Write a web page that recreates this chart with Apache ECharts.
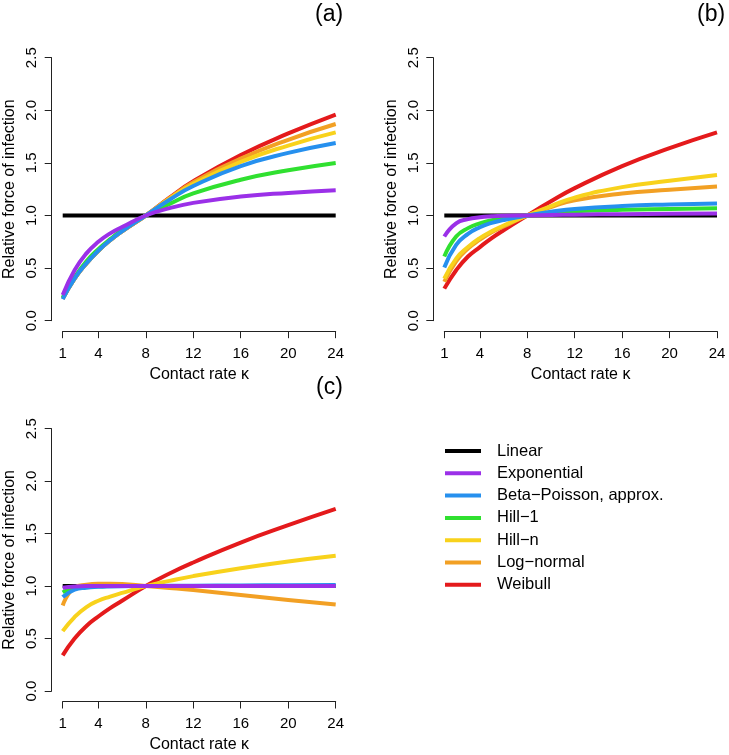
<!DOCTYPE html>
<html>
<head>
<meta charset="utf-8">
<script src="https://cdn.jsdelivr.net/npm/echarts@6/dist/echarts.min.js"></script>
<style>
  html, body { margin: 0; padding: 0; background: #fff; }
  #chart { width: 729px; height: 755px; }
</style>
</head>
<body>
<div id="chart"></div>
<script>
// contact rate values the curves are sampled at
const kappa = [1, 2, 3, 4, 5, 6, 8, 10, 12, 16, 20, 24];
const xTicks = [1, 4, 8, 12, 16, 20, 24];
const yTicks = [0, 0.5, 1, 1.5, 2, 2.5];

const linear = [1, 1, 1, 1, 1, 1, 1, 1, 1, 1, 1, 1];

// panel (a)
const expA   = [0.245, 0.48, 0.64, 0.75, 0.83, 0.89, 1, 1.07, 1.12, 1.18, 1.215, 1.24];
const betaA  = [0.205, 0.40, 0.545, 0.665, 0.765, 0.85, 1, 1.15, 1.28, 1.47, 1.595, 1.69];
const hill1A = [0.22, 0.41, 0.565, 0.68, 0.775, 0.86, 1, 1.11, 1.21, 1.34, 1.43, 1.50];
const hillnA = [0.21, 0.40, 0.545, 0.665, 0.765, 0.85, 1, 1.16, 1.30, 1.51, 1.665, 1.79];
const lognA  = [0.21, 0.40, 0.545, 0.665, 0.765, 0.85, 1, 1.165, 1.315, 1.54, 1.72, 1.87];
const weibA  = [0.21, 0.40, 0.545, 0.665, 0.765, 0.85, 1, 1.17, 1.325, 1.575, 1.78, 1.96];

// panel (b)
const expB   = [0.80, 0.925, 0.965, 0.983, 0.992, 0.997, 1, 1.004, 1.008, 1.013, 1.017, 1.02];
const betaB  = [0.505, 0.72, 0.825, 0.888, 0.93, 0.957, 1, 1.035, 1.062, 1.09, 1.105, 1.115];
const hill1B = [0.61, 0.80, 0.88, 0.926, 0.955, 0.973, 1, 1.022, 1.04, 1.055, 1.062, 1.068];
const hillnB = [0.40, 0.59, 0.70, 0.785, 0.85, 0.905, 1, 1.09, 1.17, 1.27, 1.33, 1.385];
const lognB  = [0.37, 0.565, 0.685, 0.77, 0.84, 0.895, 1, 1.08, 1.145, 1.21, 1.245, 1.275];
const weibB  = [0.305, 0.48, 0.61, 0.70, 0.785, 0.86, 1, 1.135, 1.26, 1.47, 1.64, 1.79];

// panel (c)
const expC   = [0.985, 0.997, 1, 1, 1, 1, 1, 1, 1, 1, 1, 1];
const betaC  = [0.895, 0.965, 0.985, 0.993, 0.997, 0.999, 1, 1.002, 1.004, 1.006, 1.008, 1.01];
const hill1C = [0.94, 0.985, 0.995, 0.998, 1, 1, 1, 1, 1, 1, 1, 1];
const hillnC = [0.57, 0.705, 0.80, 0.86, 0.90, 0.935, 1, 1.05, 1.095, 1.17, 1.235, 1.29];
const lognC  = [0.815, 0.985, 1.012, 1.022, 1.023, 1.02, 1, 0.982, 0.962, 0.915, 0.868, 0.825];
const weibC  = [0.34, 0.50, 0.62, 0.71, 0.79, 0.86, 1, 1.12, 1.225, 1.415, 1.58, 1.735];

const names = ["Linear", "Exponential", "Beta\u2212Poisson, approx.", "Hill\u22121", "Hill\u2212n", "Log\u2212normal", "Weibull"];
const colors = {
  "Linear": "#000000",
  "Exponential": "#9B30E8",
  "Beta\u2212Poisson, approx.": "#2690EE",
  "Hill\u22121": "#30E030",
  "Hill\u2212n": "#F8D21C",
  "Log\u2212normal": "#F2A024",
  "Weibull": "#E41A1C"
};

const panels = [
  [linear, expA, betaA, hill1A, hillnA, lognA, weibA],
  [linear, expB, betaB, hill1B, hillnB, lognB, weibB],
  [linear, expC, betaC, hill1C, hillnC, lognC, weibC]
];

// draw order: black first, then Weibull ... Exponential on top
const drawOrder = [0, 6, 5, 4, 3, 2, 1];

const FONT = "Liberation Sans, Arial, Helvetica, sans-serif";

const grids = [
  { left: 62.7, top: 57.7, width: 273, height: 263 },
  { left: 444.3, top: 57.7, width: 272.7, height: 263 },
  { left: 62.7, top: 428.7, width: 273, height: 262.3 }
];

const makeX = (i) => ({
  type: "value",
  gridIndex: i,
  min: 1,
  max: 24,
  offset: 10.5,
  axisLine: { show: true, onZero: false, lineStyle: { color: "#222", width: 1 } },
  axisTick: { show: true, length: 7, customValues: xTicks, lineStyle: { color: "#222" } },
  axisLabel: { customValues: xTicks, fontSize: 15, margin: 15, color: "#000", fontFamily: FONT },
  splitLine: { show: false },
  name: "Contact rate \u03ba",
  nameLocation: "middle",
  nameGap: 35,
  nameTextStyle: { fontSize: 16, color: "#000", fontFamily: FONT }
});

const makeY = (i) => ({
  type: "value",
  gridIndex: i,
  min: 0,
  max: 2.5,
  interval: 0.5,
  offset: 11,
  axisLine: { show: true, onZero: false, lineStyle: { color: "#222", width: 1 } },
  axisTick: { show: true, length: 7, customValues: yTicks, lineStyle: { color: "#222" } },
  axisLabel: {
    customValues: yTicks,
    rotate: 90,
    fontSize: 15,
    margin: 12,
    color: "#000",
    fontFamily: FONT,
    formatter: (v) => Number(v).toFixed(1)
  },
  splitLine: { show: false },
  name: "Relative force of infection",
  nameLocation: "middle",
  nameGap: 34,
  nameTextStyle: { fontSize: 16, color: "#000", fontFamily: FONT }
});

const series = [];
panels.forEach((arrs, p) => {
  drawOrder.forEach((k) => {
    series.push({
      name: names[k],
      type: "line",
      xAxisIndex: p,
      yAxisIndex: p,
      showSymbol: false,
      smooth: 0.5,
      clip: false,
      lineStyle: { width: 4, color: colors[names[k]] },
      itemStyle: { color: colors[names[k]] },
      data: kappa.map((x, j) => [x, arrs[k][j]])
    });
  });
});

const chart = echarts.init(document.getElementById("chart"), null, { renderer: "canvas" });

chart.setOption({
  animation: false,
  backgroundColor: "#fff",
  textStyle: { fontFamily: FONT },
  grid: grids,
  xAxis: [makeX(0), makeX(1), makeX(2)],
  yAxis: [makeY(0), makeY(1), makeY(2)],
  legend: {
    orient: "vertical",
    left: 445,
    top: 442.5,
    padding: 0,
    data: names,
    icon: "rect",
    itemWidth: 36,
    itemHeight: 4,
    itemGap: 5.3,
    selectedMode: false,
    textStyle: { fontSize: 16.5, color: "#000", fontFamily: FONT, padding: [0, 0, 0, 11] }
  },
  graphic: [
    { type: "text", left: 315, top: 3, style: { text: "(a)", fontSize: 23, fill: "#000", fontFamily: FONT } },
    { type: "text", left: 697, top: 3, style: { text: "(b)", fontSize: 23, fill: "#000", fontFamily: FONT } },
    { type: "text", left: 316, top: 376, style: { text: "(c)", fontSize: 23, fill: "#000", fontFamily: FONT } }
  ],
  series: series
});

window.addEventListener("resize", () => chart.resize());
</script>
</body>
</html>
